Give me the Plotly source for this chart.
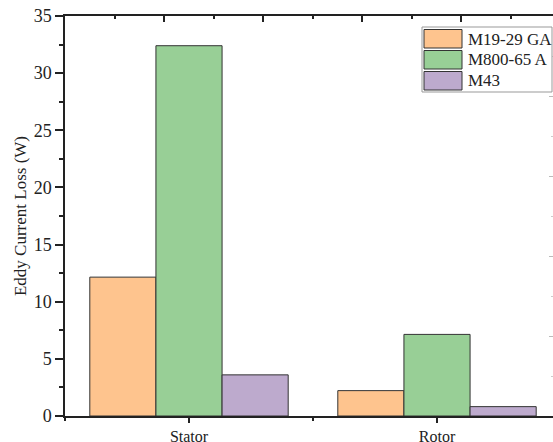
import plotly.graph_objects as go

# Eddy current loss per component for three lamination steels
components = ["Stator", "Rotor"]
materials = ["M19-29 GA", "M800-65 A", "M43"]
loss_m19 = [12.15, 2.22]
loss_m800 = [32.4, 7.14]
loss_m43 = [3.6, 0.82]
colors = ["#FEC48E", "#98CF96", "#BDAACD"]

series = [loss_m19, loss_m800, loss_m43]
xpos = list(range(len(components)))

FONT = "Liberation Serif"
W, H = 553, 442
ML, MT, MB, MR = 65, 16, 26, 0
plot_w = W - ML - MR
plot_h = H - MT - MB

fig = go.Figure()
for name, vals, col in zip(materials, series, colors):
    fig.add_trace(go.Bar(
        x=xpos, y=vals, name=name,
        marker=dict(color=col, line=dict(color="#333333", width=1)),
        showlegend=False,
    ))

# secondary axes carry the top and right frame ticks
fig.add_trace(go.Scatter(x=[None], y=[None], xaxis="x2", yaxis="y2",
                         showlegend=False, hoverinfo="skip"))

cat_px = 248.0
fig.update_layout(
    width=W, height=H,
    margin=dict(l=ML, r=MR, t=MT, b=MB, pad=0, autoexpand=False),
    paper_bgcolor="white", plot_bgcolor="white",
    barmode="group", bargap=0.2, bargroupgap=0,
    font=dict(family=FONT, color="#222222", size=16),
    xaxis=dict(
        automargin=False,
        range=[-0.5, -0.5 + plot_w / cat_px],
        tickmode="array", tickvals=xpos, ticktext=components,
        ticks="outside", ticklen=5, tickwidth=1.5, tickcolor="#222222",
        showline=True, linecolor="#222222", linewidth=1.5,
        showgrid=False, zeroline=False,
        tickfont=dict(family=FONT, size=16),
        minor=dict(tickmode="array", tickvals=[-0.5, 0.5, 1.5],
                   ticks="outside", ticklen=3, tickwidth=1.5,
                   tickcolor="#222222", showgrid=False),
    ),
    yaxis=dict(
        automargin=False,
        range=[0, 35], dtick=5, tick0=0,
        ticks="outside", ticklen=8, tickwidth=1.5, tickcolor="#222222",
        showline=True, linecolor="#222222", linewidth=1.5,
        showgrid=False, zeroline=False,
        tickfont=dict(family=FONT, size=18),
        title=dict(text="Eddy Current Loss (W)",
                   font=dict(family=FONT, size=17), standoff=3),
        minor=dict(dtick=2.5, ticks="outside", ticklen=4, tickwidth=1.5,
                   tickcolor="#222222", showgrid=False),
    ),
    xaxis2=dict(
        overlaying="x", side="top", anchor="y", automargin=False,
        range=[0, plot_w / 99.0], dtick=1, tick0=0,
        ticks="inside", ticklen=6, tickwidth=1.5, tickcolor="#222222",
        showticklabels=False, showline=True, linecolor="#222222",
        linewidth=1.5, showgrid=False, zeroline=False,
        minor=dict(dtick=0.5, ticks="inside", ticklen=3, tickwidth=1.5,
                   tickcolor="#222222", showgrid=False),
    ),
    yaxis2=dict(
        overlaying="y", side="right", anchor="x", automargin=False,
        range=[0, 5], dtick=1, tick0=0,
        ticks="inside", ticklen=4, tickwidth=1, tickcolor="#bbbbbb",
        showticklabels=False, showline=False, showgrid=False,
        zeroline=False,
        minor=dict(dtick=0.5, ticks="inside", ticklen=2, tickwidth=1,
                   tickcolor="#cccccc", showgrid=False),
    ),
)


# paper coordinates are relative to the plot area
def px(x):
    return (x - ML) / plot_w


def py(y):
    return (H - MB - y) / plot_h


# legend panel with wide swatches
lx0, lx1, ly0, ly1 = 422, 552, 27, 92
fig.add_shape(type="rect", xref="paper", yref="paper",
              x0=px(lx0), x1=px(lx1), y0=py(ly1), y1=py(ly0),
              line=dict(color="#999999", width=1), fillcolor="white")
row_top = [29.5, 50.5, 71.5]
for name, col, top in zip(materials, colors, row_top):
    fig.add_shape(type="rect", xref="paper", yref="paper",
                  x0=px(424), x1=px(462), y0=py(top + 18.5), y1=py(top),
                  line=dict(color="#333333", width=1), fillcolor=col)
    fig.add_annotation(xref="paper", yref="paper", x=px(466), y=py(top + 9.5),
                       text=name, showarrow=False, xanchor="left",
                       yanchor="middle",
                       font=dict(family=FONT, size=17, color="#222222"))

fig.write_html("out.html")
